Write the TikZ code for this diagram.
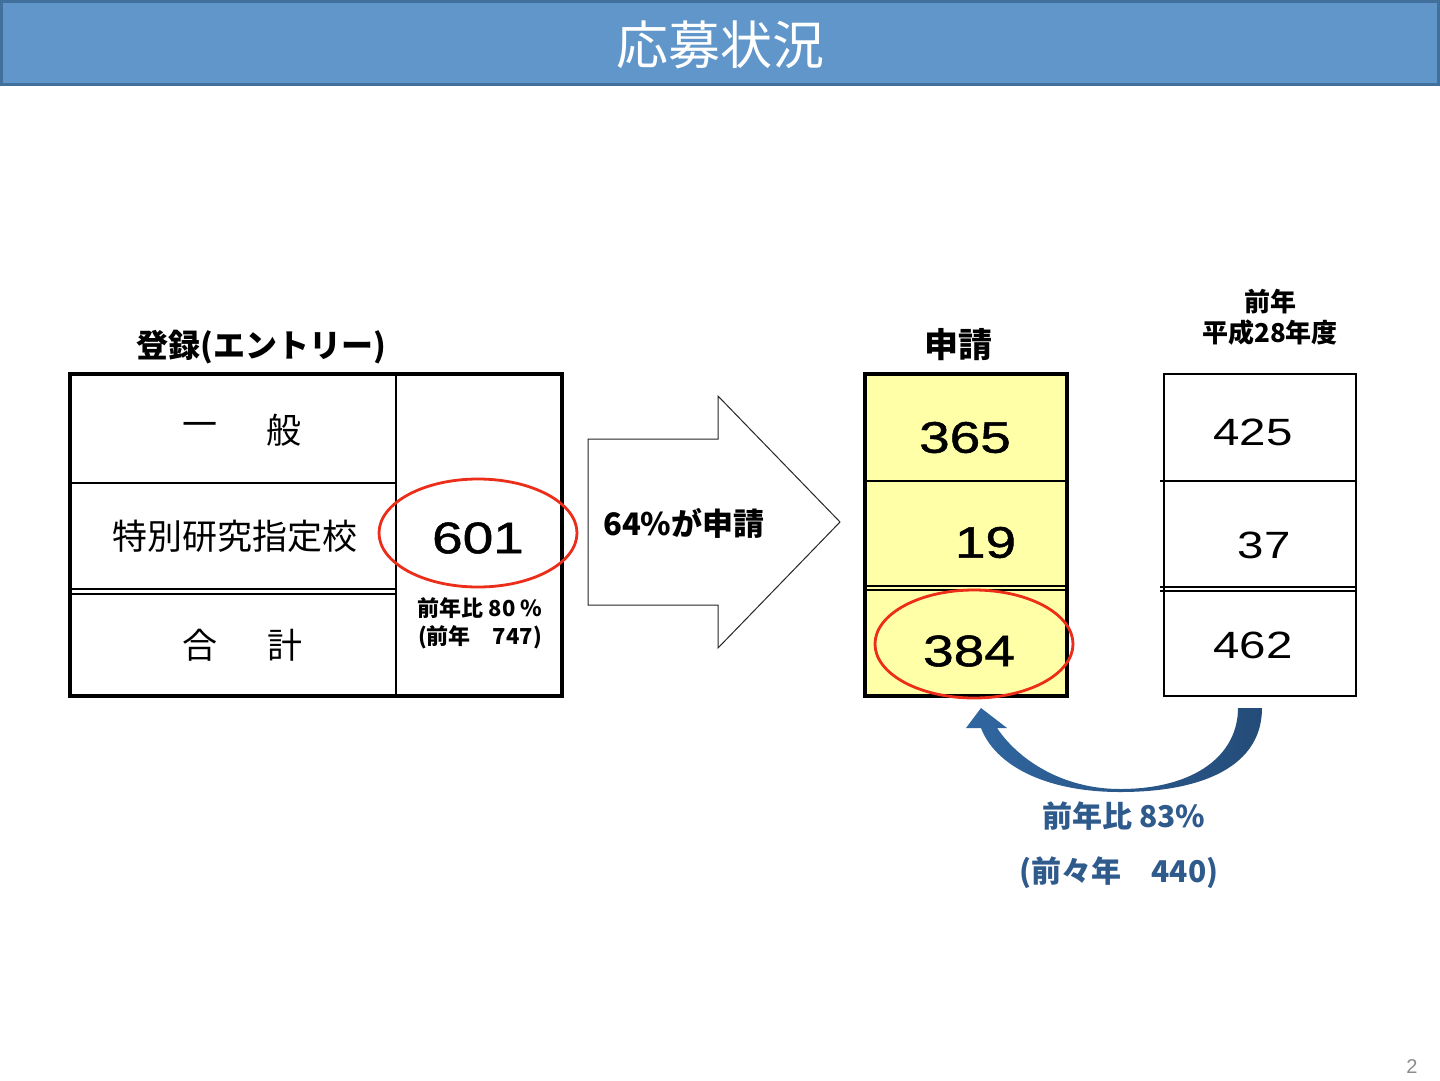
\documentclass[tikz,border=0pt]{standalone}
\usepackage{fontspec}
\setmainfont{Liberation Sans}
\newfontfamily\jp{Noto Sans CJK JP}
\newfontfamily\numf[FakeStretch=1.25]{Liberation Sans}
\newfontfamily\numbf[FakeStretch=1.25,FakeBold=1.2]{Liberation Sans}
\usetikzlibrary{shapes.geometric}
\definecolor{barfill}{RGB}{96,150,201}
\definecolor{barline}{RGB}{65,112,156}
\definecolor{ovalred}{RGB}{235,45,25}
\definecolor{paleyel}{RGB}{255,255,168}
\definecolor{txtblue}{RGB}{47,90,140}
\definecolor{arrlight}{RGB}{48,102,160}
\definecolor{arrdark}{RGB}{36,76,120}
\definecolor{pagegray}{RGB}{140,140,140}
\newcommand{\fsz}[1]{\fontsize{#1}{#1}\selectfont}
\begin{document}
\begin{tikzpicture}[x=1pt,y=-1pt,
  jptext/.style={font=\jp\fsz{35}, inner sep=0pt},
  jpbold/.style={font=\jp\bfseries\fsz{#1}, inner sep=0pt},
  numtext/.style={font=\numf\fsz{#1}, inner sep=0pt},
  numbold/.style={font=\numbf\fsz{#1}, inner sep=0pt},
  boxframe/.style={draw=black, line width=3.5pt, inner sep=0pt},
  thinline/.style={draw=black, line width=1.2pt},
  redoval/.style={draw=ovalred, line width=2.8pt, ellipse, minimum width=198pt, minimum height=108pt, inner sep=0pt}
]
\useasboundingbox (0,0) rectangle (1440,1080);
\fill[white] (0,0) rectangle (1440,1080);

% title bar
\draw[fill=barfill, draw=barline, line width=3pt] (1.5,1.5) rectangle (1438.5,84);
\node[font=\jp\fsz{52}, text=white, inner sep=0pt] (title) at (720,45) {応募状況};

% left table
\node[jpbold=32] (hreg) at (261,347) {登録(エントリー)};
\node[boxframe, minimum width=492pt, minimum height=322pt] (reg) at (316,535) {};
\draw[thinline] (396,374) -- (396,696);
\draw[thinline] (70,483) -- (396,483);
\draw[thinline] (70,589) -- (396,589);
\draw[thinline] (70,594) -- (396,594);
\node[jptext] (ippan1) at (199.5,430) {一};
\node[jptext] (ippan2) at (283.5,430) {般};
\node[jptext] (tokubetsu) at (235,536) {特別研究指定校};
\node[jptext] (gokei1) at (200,645) {合};
\node[jptext] (gokei2) at (284.5,645) {計};
\node[numbold=44] (n601) at (478,538) {601};
\node[jpbold=22] (r80) at (480,608) {前年比 80 \%};
\node[jpbold=22] (p747) at (480,637) {(前年　747)};
\node[redoval] (ovalA) at (478,533) {};

% block arrow
\draw[line width=1pt, draw=black!85, fill=white] (588,439) -- (718,439) -- (718,396) -- (840,522) -- (718,648) -- (718,605) -- (588,605) -- cycle;
\node[jpbold=31, anchor=west] (ratio) at (603,523) {64\%が申請};

% application box
\node[jpbold=34] (happ) at (958,345) {申請};
\node[boxframe, fill=paleyel, minimum width=202pt, minimum height=322pt] (app) at (966,535) {};
\draw[thinline] (865,481) -- (1067,481);
\draw[thinline] (865,586) -- (1067,586);
\draw[thinline] (865,590) -- (1067,590);
\node[numbold=44] (n365) at (965,437.5) {365};
\node[numbold=44] (n19) at (985.5,542.5) {19};
\node[numbold=44] (n384) at (969,651) {384};
\node[redoval] (ovalB) at (974,644) {};

% previous year box
\node[jpbold=26] (hprev1) at (1270,302) {前年};
\node[jpbold=26] (hprev2) at (1270,333) {平成28年度};
\node[draw=black, line width=2.5pt, inner sep=0pt, minimum width=192pt, minimum height=322pt] (prev) at (1260,535) {};
\draw[thinline] (1160,481) -- (1356,481);
\draw[thinline] (1160,587) -- (1356,587);
\draw[thinline] (1160,591) -- (1356,591);
\node[numtext=38] (n425) at (1253,432.5) {425};
\node[numtext=38] (n37) at (1264,545.5) {37};
\node[numtext=38] (n462) at (1253,645) {462};

% curved arrow
\shade[left color=arrlight, right color=arrdark]
  (1262,708) .. controls (1262,765) and (1205,792) .. (1120,792)
  .. controls (1045,792) and (995,765) .. (981,728)
  -- (966,728) -- (981,708) -- (1007,728) -- (997,728)
  .. controls (1020,762) and (1065,789) .. (1120,789)
  .. controls (1195,789) and (1238,755) .. (1238,708) -- cycle;

\node[jpbold=30, text=txtblue] (r83) at (1124,816) {前年比 83\%};
\node[jpbold=30, text=txtblue] (p440) at (1119,873) {(前々年　440)};

\node[font=\fsz{20}, text=pagegray, inner sep=0pt] (page) at (1412,1066) {2};
\end{tikzpicture}
\end{document}
